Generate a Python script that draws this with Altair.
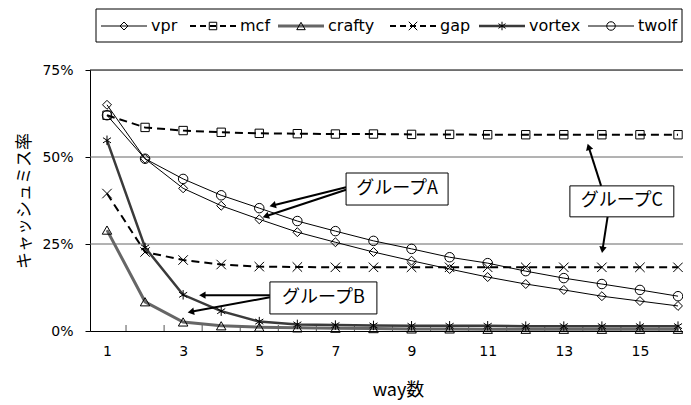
import math
import altair as alt
import pandas as pd

# ---------------- data ----------------
ways = list(range(1, 17))
series_names = ["vpr", "mcf", "crafty", "gap", "vortex", "twolf"]
vpr = [65.0, 49.5, 41.0, 36.0, 32.1, 28.4, 25.5, 22.7, 20.2, 17.8, 15.5, 13.5, 11.8, 10.0, 8.6, 7.2]
mcf = [62.0, 58.5, 57.6, 57.1, 56.8, 56.7, 56.6, 56.6, 56.5, 56.5, 56.4, 56.4, 56.4, 56.4, 56.4, 56.4]
crafty = [29.0, 8.4, 2.6, 1.5, 1.1, 0.9, 0.8, 0.7, 0.6, 0.6, 0.5, 0.5, 0.5, 0.5, 0.5, 0.5]
gap = [39.5, 22.7, 20.4, 19.1, 18.5, 18.4, 18.3, 18.3, 18.3, 18.3, 18.3, 18.3, 18.3, 18.3, 18.3, 18.3]
vortex = [54.8, 24.0, 10.4, 5.7, 2.7, 1.9, 1.7, 1.6, 1.5, 1.5, 1.5, 1.4, 1.4, 1.4, 1.4, 1.4]
twolf = [62.0, 49.5, 43.7, 39.0, 35.3, 31.6, 28.7, 25.9, 23.6, 21.2, 19.5, 17.2, 15.2, 13.5, 11.8, 10.0]
values = {"vpr": vpr, "mcf": mcf, "crafty": crafty, "gap": gap, "vortex": vortex, "twolf": twolf}

y_ticks = [0, 25, 50, 75]
x_labels = [1, 3, 5, 7, 9, 11, 13, 15]
x_minor = [1.5 + i for i in range(15)]

y_title = "キャッシュミス率"
x_title = "way数"

# annotations: label, x0, x1, y0, y1 (data units)
boxes = [
    ("グループA", 7.28, 9.96, 36.2, 45.4),
    ("グループB", 5.28, 8.09, 4.9, 14.1),
    ("グループC", 13.16, 15.89, 32.8, 41.7),
]
arrows = [
    (7.28, 41.3, 5.25, 35.8),
    (7.28, 40.6, 5.07, 32.6),
    (5.28, 10.3, 3.40, 10.3),
    (5.28, 9.7, 3.10, 5.3),
    (13.98, 41.7, 13.62, 54.0),
    (14.15, 32.8, 14.0, 22.2),
]

# ---------------- styling ----------------
W, H = 593, 261
XMIN, XMAX = 0.5535, 16.131
PPX = W / (XMAX - XMIN)
PPY = H / 75.0

CJK = "Noto Sans CJK JP"
LAT = "DejaVu Sans"

star = "M0,-1L0,1M-0.85,-0.55L0.85,0.55M-0.85,0.55L0.85,-0.55"
xshape = "M-1,-1L1,1M-1,1L1,-1"
styles = {
    "vpr": dict(color="black", width=1, dash=None, shape="diamond", size=80),
    "mcf": dict(color="black", width=2, dash=[8, 5], shape="square", size=70),
    "crafty": dict(color="#666666", width=3, dash=None, shape="triangle-up", size=90),
    "gap": dict(color="black", width=2, dash=[8, 5], shape=xshape, size=90),
    "vortex": dict(color="#3a3a3a", width=2.5, dash=None, shape=star, size=90),
    "twolf": dict(color="black", width=1, dash=None, shape="circle", size=90),
}

xscale = alt.Scale(domain=[XMIN, XMAX], nice=False, zero=False)
yscale = alt.Scale(domain=[0, 75], nice=False, zero=True)

layers = []

# grid/top rule
grid_df = pd.DataFrame({"y": [25, 50]})
layers.append(
    alt.Chart(grid_df).mark_rule(color="#666666", strokeWidth=1).encode(
        y=alt.Y("y:Q", scale=yscale), x=alt.value(0), x2=alt.value(W)
    )
)
top_df = pd.DataFrame({"y": [75]})
layers.append(
    alt.Chart(top_df).mark_rule(color="black", strokeWidth=1).encode(
        y=alt.Y("y:Q", scale=yscale), x=alt.value(0), x2=alt.value(W)
    )
)

# minor x ticks inside plot
minor_df = pd.DataFrame({"x": x_minor})
layers.append(
    alt.Chart(minor_df).mark_rule(color="#555555", strokeWidth=1).encode(
        x=alt.X("x:Q", scale=xscale), y=alt.value(H - 6), y2=alt.value(H)
    )
)

# base axes layer (invisible)
axis_df = pd.DataFrame({"way": ways, "v": vpr})
base = alt.Chart(axis_df).mark_point(opacity=0).encode(
    x=alt.X(
        "way:Q",
        scale=xscale,
        axis=alt.Axis(
            values=x_labels, ticks=False, tickSize=0, grid=False, labelPadding=13,
            labelFont=LAT, labelFontSize=14, labelColor="black",
            domainColor="black", domainWidth=1,
            title=x_title, titleFont=CJK, titleFontSize=18, titleFontWeight="normal",
            titleColor="black", titleX=308, titleY=59, titleAlign="center",
            titleBaseline="middle", labelFlush=False,
        ),
    ),
    y=alt.Y(
        "v:Q",
        scale=yscale,
        axis=alt.Axis(
            values=y_ticks, format=".0f", labelExpr="datum.value + '%'",
            ticks=True, tickSize=5, tickColor="black", grid=False, labelPadding=12,
            labelFont=LAT, labelFontSize=14, labelColor="black",
            domainColor="black", domainWidth=1,
            title=y_title, titleFont=CJK, titleFontSize=17, titleFontWeight="normal",
            titleColor="black", titleX=-66, titleY=H / 2, titleAngle=270,
            titleAlign="center", titleBaseline="middle",
        ),
    ),
)
layers.append(base)

# series
for name in series_names:
    st = styles[name]
    df = pd.DataFrame({"way": ways, "v": values[name]})
    lk = dict(color=st["color"], strokeWidth=st["width"])
    if st["dash"]:
        lk["strokeDash"] = st["dash"]
    layers.append(
        alt.Chart(df).mark_line(**lk).encode(
            x=alt.X("way:Q", scale=xscale), y=alt.Y("v:Q", scale=yscale)
        )
    )
    layers.append(
        alt.Chart(df).mark_point(
            shape=st["shape"], size=st["size"], filled=False, color="black",
            strokeWidth=1, opacity=1,
        ).encode(x=alt.X("way:Q", scale=xscale), y=alt.Y("v:Q", scale=yscale))
    )

# arrows
line_rows, head_rows = [], []
for (x0, y0, x1, y1) in arrows:
    dxp = (x1 - x0) * PPX
    dyp = -(y1 - y0) * PPY
    L = math.hypot(dxp, dyp)
    ux, uy = dxp / L, dyp / L
    back = 4.0
    hx = x1 - ux * back / PPX
    hy = y1 + uy * back / PPY
    ang = math.degrees(math.atan2(ux, -uy)) % 360
    line_rows.append({"x": x0, "y": y0, "x2": hx, "y2": hy})
    head_rows.append({"x": hx, "y": hy, "ang": ang})
line_df = pd.DataFrame(line_rows)
head_df = pd.DataFrame(head_rows)
layers.append(
    alt.Chart(line_df).mark_rule(color="black", strokeWidth=2).encode(
        x=alt.X("x:Q", scale=xscale), y=alt.Y("y:Q", scale=yscale),
        x2="x2:Q", y2="y2:Q",
    )
)
layers.append(
    alt.Chart(head_df).mark_point(shape="triangle-up", filled=True, color="black", size=55, opacity=1).encode(
        x=alt.X("x:Q", scale=xscale), y=alt.Y("y:Q", scale=yscale),
        angle=alt.Angle("ang:Q", scale=None),
    )
)

# boxes
box_df = pd.DataFrame(
    [{"label": b[0], "x0": b[1], "x1": b[2], "y0": b[3], "y1": b[4],
      "xc": (b[1] + b[2]) / 2, "yc": (b[3] + b[4]) / 2} for b in boxes]
)
layers.append(
    alt.Chart(box_df).mark_rect(fill="white", stroke="black", strokeWidth=1).encode(
        x=alt.X("x0:Q", scale=xscale), x2="x1:Q",
        y=alt.Y("y0:Q", scale=yscale), y2="y1:Q",
    )
)
layers.append(
    alt.Chart(box_df).mark_text(font=CJK, fontSize=18, color="black", align="center", baseline="middle").encode(
        x=alt.X("xc:Q", scale=xscale), y=alt.Y("yc:Q", scale=yscale), text="label:N"
    )
)

# legend (pixel positions relative to the plot area)
one = pd.DataFrame({"k": [0]})
LY = -44
layers.append(
    alt.Chart(one).mark_rect(fill="white", stroke="black", strokeWidth=1).encode(
        x=alt.value(6), x2=alt.value(592), y=alt.value(-61), y2=alt.value(-28)
    )
)
leg_x0 = [11, 100, 188, 300, 389, 498]
for i, name in enumerate(series_names):
    st = styles[name]
    x0 = leg_x0[i]
    x1 = x0 + 46
    xm = (x0 + x1) / 2
    lk = dict(color=st["color"], strokeWidth=st["width"])
    if st["dash"]:
        lk["strokeDash"] = [6, 4]
    layers.append(
        alt.Chart(one).mark_rule(**lk).encode(
            x=alt.value(x0), x2=alt.value(x1), y=alt.value(LY)
        )
    )
    layers.append(
        alt.Chart(one).mark_point(shape=st["shape"], size=st["size"] * 0.8, filled=False, color="black",
                                  strokeWidth=1, opacity=1).encode(
            x=alt.value(xm), y=alt.value(LY)
        )
    )
    layers.append(
        alt.Chart(one).mark_text(font=LAT, fontSize=16, color="black", align="left", baseline="middle", text=name).encode(
            x=alt.value(x1 + 4), y=alt.value(LY)
        )
    )

chart = alt.layer(*layers).properties(
    width=W, height=H,
    autosize=alt.AutoSizeParams(type="none"),
    padding={"left": 82, "top": 62, "right": 0, "bottom": 70},
).configure_view(stroke=None).configure(background="white")

chart.save("out.html", embed_options={"renderer": "svg", "actions": False})
